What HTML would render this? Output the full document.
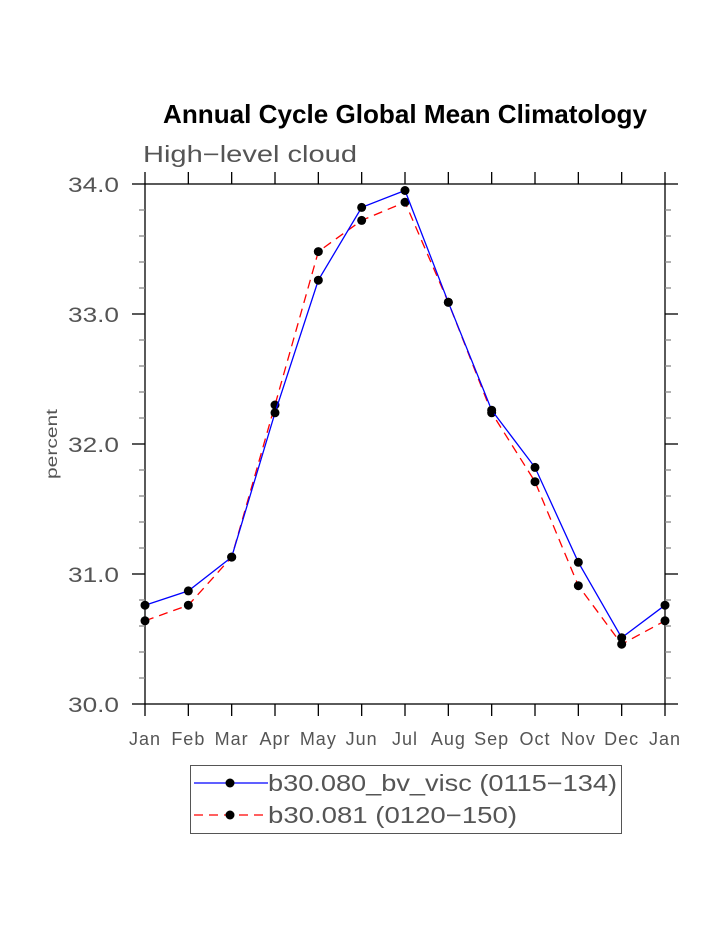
<!DOCTYPE html>
<html><head><meta charset="utf-8"><style>
html,body{margin:0;padding:0;background:#fff;}
svg text{font-family:"Liberation Sans",sans-serif;}
</style></head><body>
<svg id="chart" width="723" height="935" viewBox="0 0 723 935" xmlns="http://www.w3.org/2000/svg">
<text x="163" y="123" font-size="26" font-weight="bold" fill="#000" textLength="484" lengthAdjust="spacingAndGlyphs">Annual Cycle Global Mean Climatology</text>
<text x="143" y="162" font-size="23" fill="#555" textLength="214" lengthAdjust="spacingAndGlyphs">High−level cloud</text>
<text transform="translate(57,444) rotate(-90)" text-anchor="middle" font-size="16" fill="#555" textLength="70" lengthAdjust="spacingAndGlyphs">percent</text>
<g id="axes"></g>
<g id="series"></g>
<g>
<rect x="190.5" y="765.5" width="431" height="68" fill="none" stroke="#555" stroke-width="1"/>
<line x1="194" y1="783" x2="268" y2="783" stroke="#0000ff" stroke-width="1.3"/>
<circle cx="230" cy="783" r="4.5" fill="#000"/>
<text x="268" y="791" font-size="23" fill="#555" textLength="349" lengthAdjust="spacingAndGlyphs">b30.080_bv_visc (0115−134)</text>
<line x1="194" y1="815" x2="268" y2="815" stroke="#ff0000" stroke-width="1.3" stroke-dasharray="9,6"/>
<circle cx="230" cy="815" r="4.5" fill="#000"/>
<text x="268" y="823" font-size="23" fill="#555" textLength="249" lengthAdjust="spacingAndGlyphs">b30.081 (0120−150)</text>
</g>
</svg>
<script>
const months=["Jan","Feb","Mar","Apr","May","Jun","Jul","Aug","Sep","Oct","Nov","Dec","Jan"];
const blueValues=[30.76,30.87,31.13,32.24,33.26,33.82,33.95,33.09,32.26,31.82,31.09,30.51,30.76];
const redValues=[30.64,30.76,31.13,32.30,33.48,33.72,33.86,33.09,32.24,31.71,30.91,30.46,30.64];
const yTickLabels=["30.0","31.0","32.0","33.0","34.0"];
const yMin=30,yMax=34;
const X0=145,X1=665,Y0=704,Y1=184;
const NS="http://www.w3.org/2000/svg";
function xs(i){return X0+(X1-X0)*i/(months.length-1);}
function ys(v){return Y0-(v-yMin)/(yMax-yMin)*(Y0-Y1);}
function mk(t,a,p){const e=document.createElementNS(NS,t);for(const k in a)e.setAttribute(k,a[k]);p.appendChild(e);return e;}
const ax=document.getElementById('axes');
const frame=mk('rect',{x:X0,y:Y1,width:X1-X0,height:Y0-Y1,fill:'none',stroke:'#000','stroke-width':1.3},ax);


months.forEach((m,i)=>{
  const x=xs(i);
  mk('line',{x1:x,y1:Y0,x2:x,y2:Y0+12,stroke:'#000','stroke-width':1.3},ax);
  mk('line',{x1:x,y1:Y1,x2:x,y2:Y1-12,stroke:'#000','stroke-width':1.3},ax);
  const t=mk('text',{x:x,y:Y0+41,'text-anchor':'middle','font-size':18,fill:'#555','letter-spacing':'1'},ax);
  t.textContent=m;
  
  
});
for(let v=yMin;v<=yMax+1e-9;v+=0.2){
  const y=ys(v);const major=Math.abs(v-Math.round(v))<1e-6;const L=major?13:6;
  const c=major?'#000':'#888';
  mk('line',{x1:X0-L,y1:y,x2:X0,y2:y,stroke:c,'stroke-width':1.3},ax);
  mk('line',{x1:X1,y1:y,x2:X1+L,y2:y,stroke:c,'stroke-width':1.3},ax);
}
yTickLabels.forEach(l=>{
  const t=mk('text',{x:68,y:ys(parseFloat(l))+8,'font-size':21,fill:'#555',textLength:51,lengthAdjust:'spacingAndGlyphs'},ax);
  t.textContent=l;
  
  
});
const sg=document.getElementById('series');
function draw(vals,color,dash,name){
  const pts=vals.map((v,i)=>xs(i)+','+ys(v)).join(' ');
  const pl=mk('polyline',{points:pts,fill:'none',stroke:color,'stroke-width':1.3},sg);
  if(dash)pl.setAttribute('stroke-dasharray',dash);
  
  
  vals.forEach((v,i)=>{
    const c=mk('circle',{cx:xs(i),cy:ys(v),r:4.5,fill:'#000'},sg);
    
    
  });
}
draw(redValues,'#ff0000','9,6','red-series');
draw(blueValues,'#0000ff',null,'blue-series');
</script>
</body></html>
